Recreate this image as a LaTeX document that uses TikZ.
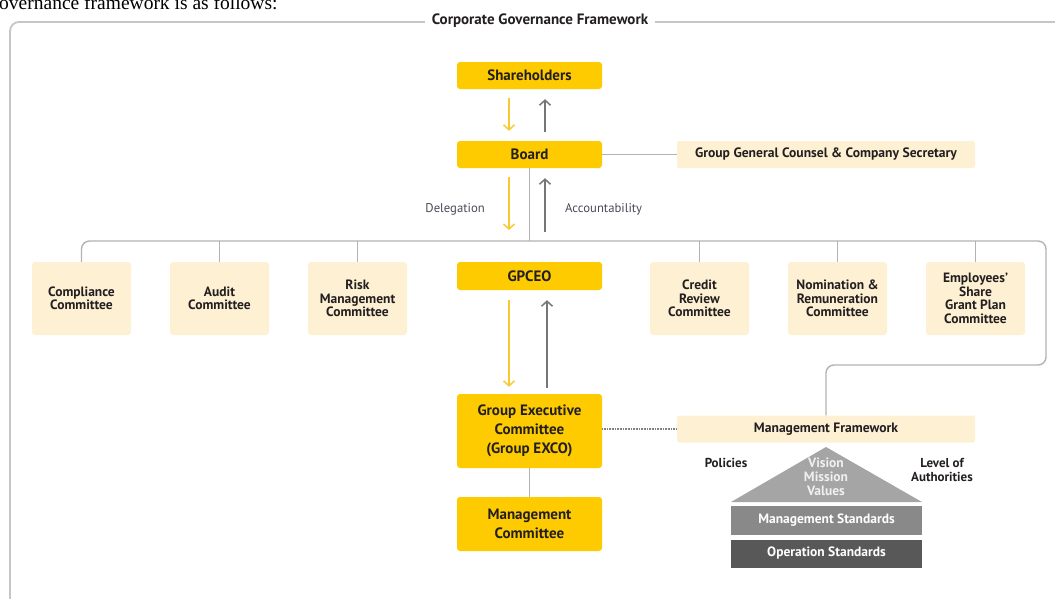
\documentclass[tikz,border=0pt]{standalone}
\usepackage{fontspec}
\setmainfont{PT Sans}
\setsansfont{PT Sans}
\newfontfamily\serifdoc{Liberation Serif}
\usetikzlibrary{arrows.meta}
\definecolor{gold}{HTML}{FDCB00}
\definecolor{cream}{HTML}{FDF0D3}
\definecolor{lineg}{HTML}{B2B2B2}
\definecolor{frameg}{HTML}{C6C6C6}
\definecolor{arrg}{HTML}{767676}
\definecolor{arry}{HTML}{F8C935}
\definecolor{txt}{HTML}{231F20}
\definecolor{labc}{HTML}{4A4A58}
\definecolor{trig}{HTML}{A5A5A5}
\definecolor{barone}{HTML}{898989}
\definecolor{bartwo}{HTML}{585858}
\begin{document}
\begin{tikzpicture}[x=1pt,y=-1pt,
  ybox/.style={fill=gold, rounded corners=3pt, minimum width=145pt, text=txt,
    font=\bfseries\fontsize{15}{19}\selectfont, align=center, inner sep=0pt},
  cbox/.style={fill=cream, rounded corners=3pt, minimum width=99pt, minimum height=73pt,
    text=txt, font=\bfseries\fontsize{13.5}{13.5}\selectfont, align=center, inner sep=0pt},
  wbox/.style={fill=cream, rounded corners=2pt, minimum width=298pt, minimum height=27pt,
    text=txt, font=\bfseries\fontsize{13.6}{15}\selectfont, inner sep=0pt},
  conn/.style={draw=lineg, line width=1.4pt},
  framel/.style={draw=frameg, line width=1.8pt},
  yarr/.style={draw=arry, line width=1.3pt, -{Straight Barb[length=5pt,width=11pt,line width=1.5pt]}},
  garr/.style={draw=arrg, line width=1.3pt, -{Straight Barb[length=5pt,width=11pt,line width=1.5pt]}},
  lab/.style={text=labc, font=\fontsize{12.7}{14}\selectfont, inner sep=0pt},
  blab/.style={text=txt, font=\bfseries\fontsize{13}{14}\selectfont, inner sep=0pt, align=center},
  barnode/.style={minimum width=191pt, text=white, font=\bfseries\fontsize{13.5}{15}\selectfont, inner sep=0pt},
]
\useasboundingbox (0,0) rectangle (1055,598);

% cut-off intro text
\node[anchor=base west, font=\serifdoc\fontsize{19.5}{20}\selectfont, text=black, inner sep=0pt] (intro) at (-1,9.5) {overnance framework is as follows:};

% outer frame
\draw[framel, rounded corners=9pt] (1075,22) -- (10,22) -- (10,630);
\node[fill=white, inner xsep=7pt, inner ysep=3pt, text=txt, font=\bfseries\fontsize{15}{17}\selectfont] (ttl) at (540,21) {Corporate Governance Framework};

% main boxes
\node[ybox, minimum height=27pt] (sh) at (529.5,75.5) {Shareholders};
\node[ybox, minimum height=27pt] (bd) at (529.5,154.5) {Board};
\node[wbox] (ggc) at (826,154.5) {Group General Counsel \& Company Secretary};
\node[ybox, minimum height=28pt] (gp) at (529.5,276) {GPCEO};
\node[ybox, minimum height=74pt] (exco) at (529.5,431) {Group Executive\\Committee\\(Group EXCO)};
\node[ybox, minimum height=54pt] (mc) at (529.5,524) {Management\\Committee};
\node[wbox] (mf) at (826,429) {Management Framework};

% committees
\node[cbox] (comp) at (81.5,298.5) {Compliance\\Committee};
\node[cbox] (aud) at (219.5,298.5) {Audit\\Committee};
\node[cbox] (risk) at (357.5,298.5) {Risk\\Management\\Committee};
\node[cbox] (cred) at (699.5,298.5) {Credit\\Review\\Committee};
\node[cbox] (nom) at (837.5,298.5) {Nomination \&\\Remuneration\\Committee};
\node[cbox] (emp) at (975.5,298.5) {Employees'\\Share\\Grant Plan\\Committee};

% bus
\coordinate (bus) at (0,241);
\coordinate (busR) at (1046,241);
\coordinate (busD) at (1046,365);
\draw[conn, rounded corners=8pt] (comp.north) -- (comp.north |- bus) -- (busR) -- (busD) -- (mf.north |- busD) -- (mf.north);
\draw[conn] (aud.north) -- (aud.north |- bus);
\draw[conn] (risk.north) -- (risk.north |- bus);
\draw[conn] (cred.north) -- (cred.north |- bus);
\draw[conn] (nom.north) -- (nom.north |- bus);
\draw[conn] (emp.north) -- (emp.north |- bus);
\draw[conn] (bd.south) -- (bd.south |- bus);
\draw[conn] (bd.east) -- (ggc.west);
\draw[conn] (exco.south) -- (mc.north);
\draw[draw=gray, line width=1.3pt, dash pattern=on 1pt off 0.6pt] (mf.west -| exco.east) -- (mf.west);

% arrows
\draw[yarr] ([xshift=-20.5pt,yshift=-9pt]sh.south) -- ([xshift=-20.5pt,yshift=10pt]bd.north);
\draw[garr] ([xshift=15.5pt,yshift=9pt]bd.north) -- ([xshift=15.5pt,yshift=-10pt]sh.south);
\coordinate (delend) at (509,230);
\coordinate (accst) at (545,232);
\draw[yarr] ([xshift=-20.5pt,yshift=-9pt]bd.south) -- (delend);
\draw[garr] (accst) -- ([xshift=15.5pt,yshift=-10pt]bd.south);
\draw[yarr] ([xshift=-20.5pt,yshift=-10pt]gp.south) -- ([xshift=-20.5pt,yshift=7pt]exco.north);
\draw[garr] ([xshift=17.5pt,yshift=6pt]exco.north) -- ([xshift=17.5pt,yshift=-10pt]gp.south);

\node[lab, anchor=east] (dlg) at (485,209) {Delegation};
\node[lab, anchor=west] (acc) at (565,209) {Accountability};

% pyramid
\fill[trig] (826,447) -- (922,502) -- (731,502) -- cycle;
\node[text=white!88!gray, font=\bfseries\fontsize{13.5}{14}\selectfont, align=center, inner sep=0pt] (vmv) at (826,477) {Vision\\Mission\\Values};
\node[barnode, fill=barone, minimum height=29pt] (ms) at (826.5,520) {Management Standards};
\node[barnode, fill=bartwo, minimum height=28pt] (os) at (826.5,553.5) {Operation Standards};
\node[blab] (pol) at (726,463) {Policies};
\node[blab] (loa) at (942,470) {Level of\\Authorities};
\end{tikzpicture}
\end{document}
